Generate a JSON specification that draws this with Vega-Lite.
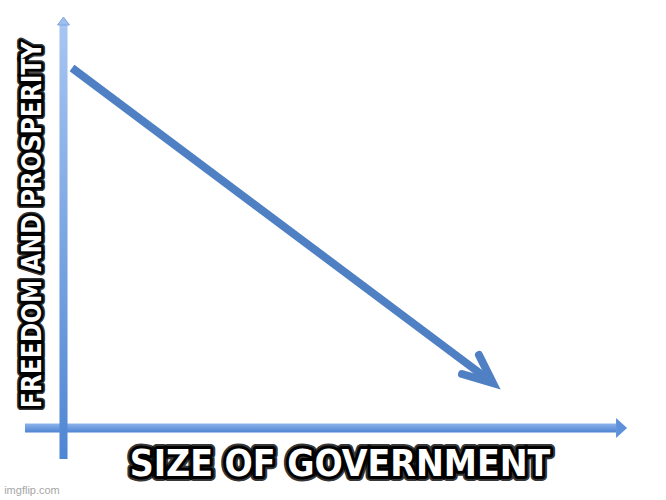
{
  "$schema": "https://vega.github.io/schema/vega-lite/v6.json",
  "width": 666,
  "height": 500,
  "padding": 0,
  "autosize": {"type": "fit", "contains": "padding"},
  "background": "white",
  "config": {"view": {"stroke": null}},
  "datasets": {
    "xaxis": [{"x": 3.75, "x2": 92.5, "y": 13.5, "y2": 15.3}],
    "xhead": [{"x": 92.5, "y": 14.4}],
    "yaxis": [{"x": 8.93, "x2": 10.14, "y": 8.2, "y2": 95.0}],
    "yhead": [{"x": 9.53, "y": 95.0}],
    "shaft": [{"x": 10.81, "y": 86.4, "x2": 73.54, "y2": 23.88}],
    "chevron": [
      {"x": 71.92, "y": 29.0, "order": 1},
      {"x": 74.02, "y": 23.4, "order": 2},
      {"x": 69.37, "y": 25.2, "order": 3}
    ],
    "xlabel": [{"x": 51.05, "y": 7.0, "text": "SIZE OF GOVERNMENT"}],
    "ylabel": [{"x": 4.95, "y": 55.0, "text": "FREEDOM AND PROSPERITY"}],
    "watermark": [{"x": 4.8, "y": 1.8, "text": "imgflip.com"}]
  },
  "layer": [
    {
      "data": {"name": "xaxis"},
      "mark": {
        "type": "rect",
        "fill": {
          "gradient": "linear", "x1": 0, "y1": 0, "x2": 0, "y2": 1,
          "stops": [{"offset": 0, "color": "#8db3ec"}, {"offset": 1, "color": "#4f84d2"}]
        }
      },
      "encoding": {
        "x": {"field": "x", "type": "quantitative", "scale": {"domain": [0, 100], "nice": false, "zero": false}, "axis": null},
        "x2": {"field": "x2"},
        "y": {"field": "y", "type": "quantitative", "scale": {"domain": [0, 100], "nice": false, "zero": false}, "axis": null},
        "y2": {"field": "y2"}
      }
    },
    {
      "data": {"name": "xhead"},
      "mark": {"type": "point", "shape": "M0,-1 L0,1 L1.1,0 Z", "size": 400, "filled": true, "fill": "#5e91db", "opacity": 1, "strokeWidth": 0},
      "encoding": {
        "x": {"field": "x", "type": "quantitative"},
        "y": {"field": "y", "type": "quantitative"}
      }
    },
    {
      "data": {"name": "yaxis"},
      "mark": {
        "type": "rect",
        "fill": {
          "gradient": "linear", "x1": 0, "y1": 0, "x2": 0, "y2": 1,
          "stops": [{"offset": 0, "color": "#a6c5f2"}, {"offset": 1, "color": "#4f86d3"}]
        }
      },
      "encoding": {
        "x": {"field": "x", "type": "quantitative"},
        "x2": {"field": "x2"},
        "y": {"field": "y", "type": "quantitative"},
        "y2": {"field": "y2"}
      }
    },
    {
      "data": {"name": "yhead"},
      "mark": {"type": "point", "shape": "M-1,0 L1,0 L0,-1.33 Z", "size": 144, "filled": true, "fill": "#9dbff0", "stroke": "#7ea6e0", "strokeWidth": 1, "opacity": 1},
      "encoding": {
        "x": {"field": "x", "type": "quantitative"},
        "y": {"field": "y", "type": "quantitative"}
      }
    },
    {
      "data": {"name": "shaft"},
      "mark": {"type": "rule", "color": "#4f80c3", "strokeWidth": 8, "strokeCap": "butt"},
      "encoding": {
        "x": {"field": "x", "type": "quantitative"},
        "y": {"field": "y", "type": "quantitative"},
        "x2": {"field": "x2"},
        "y2": {"field": "y2"}
      }
    },
    {
      "data": {"name": "chevron"},
      "mark": {"type": "line", "color": "#4f80c3", "strokeWidth": 8, "strokeCap": "round", "strokeJoin": "miter"},
      "encoding": {
        "x": {"field": "x", "type": "quantitative"},
        "y": {"field": "y", "type": "quantitative"},
        "order": {"field": "order"}
      }
    },
    {
      "data": {"name": "xlabel"},
      "mark": {"type": "text", "font": "DejaVu Sans Condensed", "fontWeight": "bold", "fontSize": 37, "baseline": "middle", "align": "center", "fill": "black", "stroke": "black", "strokeWidth": 10, "strokeJoin": "round", "strokeOpacity": 0.8},
      "encoding": {
        "x": {"field": "x", "type": "quantitative"},
        "y": {"field": "y", "type": "quantitative"},
        "text": {"field": "text"}
      }
    },
    {
      "data": {"name": "xlabel"},
      "mark": {"type": "text", "font": "DejaVu Sans Condensed", "fontWeight": "bold", "fontSize": 37, "baseline": "middle", "align": "center", "fill": "black", "stroke": "black", "strokeWidth": 6, "strokeJoin": "round"},
      "encoding": {
        "x": {"field": "x", "type": "quantitative"},
        "y": {"field": "y", "type": "quantitative"},
        "text": {"field": "text"}
      }
    },
    {
      "data": {"name": "xlabel"},
      "mark": {"type": "text", "font": "DejaVu Sans Condensed", "fontWeight": "bold", "fontSize": 37, "baseline": "middle", "align": "center", "fill": "white"},
      "encoding": {
        "x": {"field": "x", "type": "quantitative"},
        "y": {"field": "y", "type": "quantitative"},
        "text": {"field": "text"}
      }
    },
    {
      "data": {"name": "ylabel"},
      "mark": {"type": "text", "angle": 270, "font": "DejaVu Sans Condensed", "fontWeight": "bold", "fontSize": 26, "baseline": "middle", "align": "center", "fill": "black", "stroke": "black", "strokeWidth": 8, "strokeJoin": "round", "strokeOpacity": 0.8},
      "encoding": {
        "x": {"field": "x", "type": "quantitative"},
        "y": {"field": "y", "type": "quantitative"},
        "text": {"field": "text"}
      }
    },
    {
      "data": {"name": "ylabel"},
      "mark": {"type": "text", "angle": 270, "font": "DejaVu Sans Condensed", "fontWeight": "bold", "fontSize": 26, "baseline": "middle", "align": "center", "fill": "black", "stroke": "black", "strokeWidth": 5, "strokeJoin": "round"},
      "encoding": {
        "x": {"field": "x", "type": "quantitative"},
        "y": {"field": "y", "type": "quantitative"},
        "text": {"field": "text"}
      }
    },
    {
      "data": {"name": "ylabel"},
      "mark": {"type": "text", "angle": 270, "font": "DejaVu Sans Condensed", "fontWeight": "bold", "fontSize": 26, "baseline": "middle", "align": "center", "fill": "white"},
      "encoding": {
        "x": {"field": "x", "type": "quantitative"},
        "y": {"field": "y", "type": "quantitative"},
        "text": {"field": "text"}
      }
    },
    {
      "data": {"name": "watermark"},
      "mark": {"type": "text", "font": "Liberation Sans, sans-serif", "fontSize": 11, "baseline": "middle", "align": "center", "fill": "#a6a6a6"},
      "encoding": {
        "x": {"field": "x", "type": "quantitative"},
        "y": {"field": "y", "type": "quantitative"},
        "text": {"field": "text"}
      }
    }
  ]
}
